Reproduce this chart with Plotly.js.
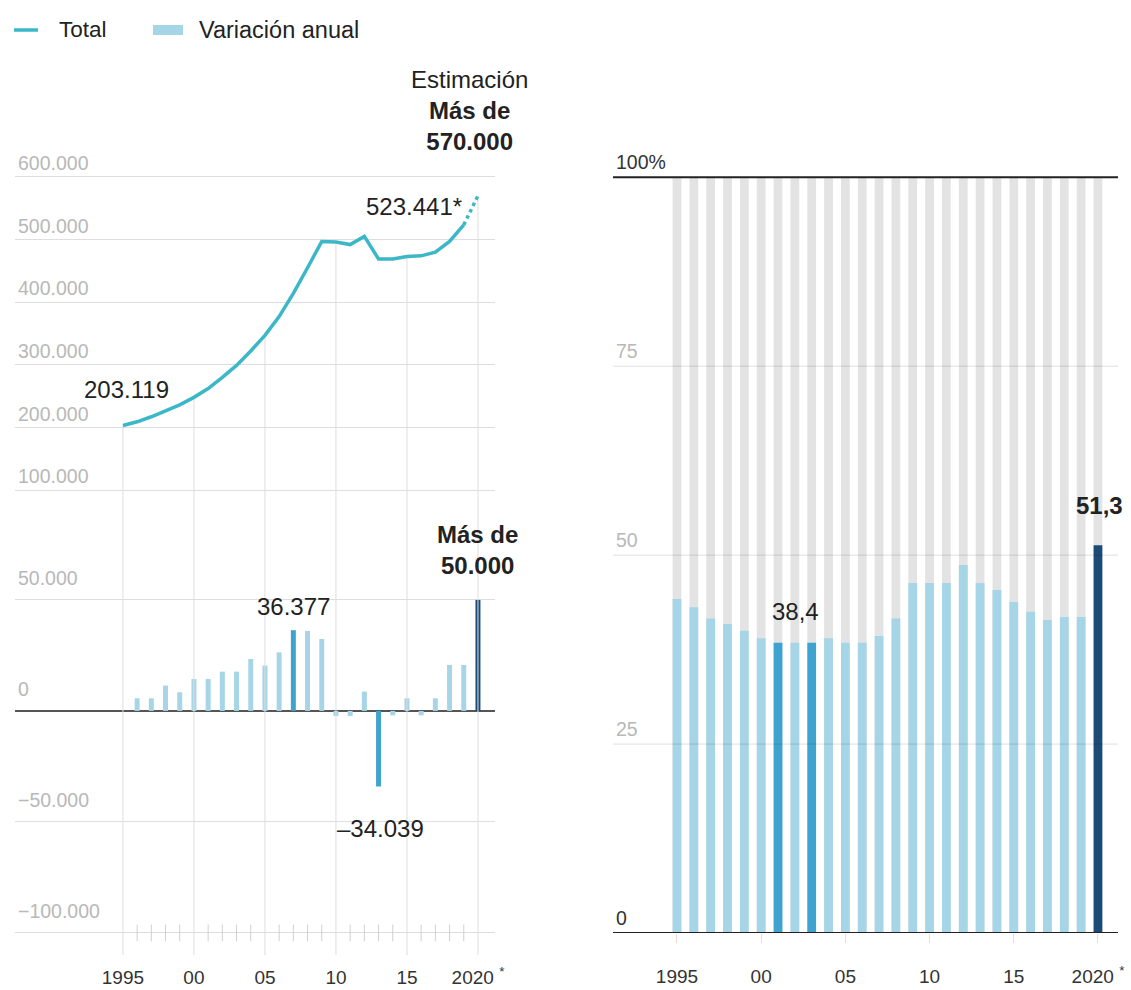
<!DOCTYPE html>
<html>
<head>
<meta charset="utf-8">
<script src="https://cdn.plot.ly/plotly-3.0.1.min.js"></script>
<style>
html,body{margin:0;padding:0;background:#fff;}
#chart{width:1131px;height:990px;}
</style>
</head>
<body>
<div id="chart"></div>
<script>
// ---------- DATA ----------
const years = [1995,1996,1997,1998,1999,2000,2001,2002,2003,2004,2005,2006,2007,2008,2009,2010,2011,2012,2013,2014,2015,2016,2017,2018,2019,2020];
// Total (1995-2019), 2020 = estimación
const totalYears = [1995,1996,1997,1998,1999,2000,2001,2002,2003,2004,2005,2006,2007,2008,2009,2010,2011,2012,2013,2014,2015,2016,2017,2018,2019];
const total = [203119,209000,217000,227000,236000,248000,262000,280000,299000,322000,347000,377000,414000,455000,497000,496000,492000,505000,469000,469000,473000,474000,480000,497000,523441];
const estimateYears = [2019,2020];
const estimate = [523441,570000];
// Variación anual
const changeYears = [1996,1997,1998,1999,2000,2001,2002,2003,2004,2005,2006,2007,2008,2009,2010,2011,2012,2013,2014,2015,2016,2017,2018,2019,2020];
const changes = [5700,5700,11400,8400,14400,14400,17700,17700,23400,20400,26400,36377,36000,32400,-2300,-2300,8700,-34039,-2000,5700,-2000,5700,20700,20700,50000];
// Porcentaje (%)
const shareYears = years;
const share = [44.2,43.1,41.6,40.9,40.0,39.0,38.4,38.4,38.4,39.0,38.4,38.4,39.3,41.6,46.3,46.3,46.3,48.7,46.3,45.4,43.8,42.5,41.4,41.8,41.8,51.3];
// Ticks / labels
const xTickVals = [1995,2000,2005,2010,2015,2020];
const xTickText = ['1995','00','05','10','15','2020 <sup>*</sup>'];
const leftTopTicks = [100000,200000,300000,400000,500000,600000];
const leftBottomTicks = [-100000,-50000,0,50000];
const rightTicks = [0,25,50,75,100];
const rightTickText = ['<span style="color:#333">0</span>','25','50','75','<span style="color:#333">100%</span>'];
const legendLabels = ['Total','Variación anual'];

// ---------- STYLE ----------
const FONT = 'Liberation Sans, Arial, sans-serif';
const LINE = '#3cb7c8';
const LIGHT = '#a5d5e7';
const MID = '#3ea3cf';
const DARK = '#1c4b77';
const GRID = '#dedede';
const TXT = '#222';

function fmt(n, dec){
  const neg = n < 0; n = Math.abs(n);
  let s = dec ? n.toFixed(dec).replace('.', ',') : String(Math.round(n)).replace(/\B(?=(\d{3})+(?!\d))/g, '.');
  return (neg ? '\u2013' : '') + s;
}

const leftBarColors = changeYears.map(y => y === 2020 ? DARK : (y === 2007 || y === 2013) ? MID : LIGHT);
const rightBarColors = shareYears.map(y => y === 2020 ? DARK : (y === 2001 || y === 2003) ? MID : LIGHT);

const yTopRange = [20200, 659000];
const y2Range = [-112200, 77000];

// vertical grid lines (top: from curve down; bottom: full)
const gridTopX = [], gridTopY = [], gridBotX = [], gridBotY = [];
xTickVals.forEach(y => {
  const v = y === 2020 ? estimate[1] : total[totalYears.indexOf(y)];
  gridTopX.push(y, y, null); gridTopY.push(v, yTopRange[0], null);
  gridBotX.push(y, y, null); gridBotY.push(y2Range[1], -110000, null);
});
const minorYears = years.filter(y => xTickVals.indexOf(y) < 0);

const traces = [
  {x: gridTopX, y: gridTopY, xaxis:'x', yaxis:'y', mode:'lines', line:{color:GRID, width:1}, showlegend:false, hoverinfo:'skip'},
  {x: gridBotX, y: gridBotY, xaxis:'x', yaxis:'y2', mode:'lines', line:{color:GRID, width:1}, showlegend:false, hoverinfo:'skip'},
  {x: minorYears, y: minorYears.map(() => leftBottomTicks[0]), xaxis:'x', yaxis:'y2', mode:'markers',
   marker:{symbol:'line-ns', size:12, line:{color:'#d0d0d0', width:1}}, showlegend:false, hoverinfo:'skip'},
  {x: totalYears, y: total, xaxis:'x', yaxis:'y', mode:'lines', name:legendLabels[0], line:{color:LINE, width:3.5}, showlegend:false},
  {x: estimateYears, y: estimate, xaxis:'x', yaxis:'y', mode:'lines', line:{color:LINE, width:3.5, dash:'dot'}, showlegend:false},
  {x: changeYears, y: changes, xaxis:'x', yaxis:'y2', type:'bar', name:legendLabels[1], width:0.35,
   marker:{color:leftBarColors, line:{width:0}}, showlegend:false},
  {x: shareYears, y: shareYears.map(() => 100), xaxis:'x3', yaxis:'y3', type:'bar', width:0.52,
   marker:{color:'#e3e3e3', line:{width:0}}, showlegend:false, hoverinfo:'skip'},
  {x: shareYears, y: share, xaxis:'x3', yaxis:'y3', type:'bar', width:0.52,
   marker:{color:rightBarColors, line:{width:0}}, showlegend:false}
];

const W = 1131, H = 990;
const px = v => v / W, py = v => 1 - v / H;

const tickFontY = {family:FONT, size:19.5, color:'#b8b8b8'};
const tickFontX = {family:FONT, size:19, color:'#333'};

const shapes = [
  // legend keys
  {type:'line', xref:'paper', yref:'paper', x0:px(14), x1:px(38), y0:py(30), y1:py(30), line:{color:LINE, width:3.5}},
  {type:'rect', xref:'paper', yref:'paper', x0:px(153), x1:px(183), y0:py(35), y1:py(25), fillcolor:LIGHT, line:{width:0}}
];
rightTicks.forEach(v => {
  const edge = (v === 0 || v === 100);
  shapes.push({type:'line', xref:'x3 domain', yref:'y3', x0:0, x1:1, y0:v, y1:v, layer:'above',
    line:{color: edge ? '#222' : 'rgba(0,0,0,0.13)', width: edge ? 2 : 1}});
});

const annFont = {family:FONT, size:24, color:TXT};
const annotations = [
  {xref:'paper', yref:'paper', x:px(57), y:py(30), xanchor:'left', yanchor:'middle', text:legendLabels[0], showarrow:false, font:{family:FONT, size:22.5, color:TXT}},
  {xref:'paper', yref:'paper', x:px(197), y:py(30), xanchor:'left', yanchor:'middle', text:legendLabels[1], showarrow:false, font:{family:FONT, size:23.5, color:TXT}},
  {xref:'x', yref:'y', x:totalYears[0], y:total[0], text:fmt(total[0]), showarrow:false, xshift:4, yshift:36, font:annFont},
  {xref:'x', yref:'y', x:totalYears[24], y:total[24], text:fmt(total[24]) + '*', showarrow:false, xanchor:'right', xshift:0, yshift:18, font:annFont},
  {xref:'x', yref:'y', x:estimateYears[1], y:estimate[1], text:'Estimación<br><b>Más de<br>' + fmt(estimate[1]) + '</b>', showarrow:false,
   xanchor:'center', yanchor:'bottom', xshift:-8, yshift:39, font:annFont},
  {xref:'x', yref:'y2', x:2007, y:changes[changeYears.indexOf(2007)], text:fmt(changes[changeYears.indexOf(2007)]), showarrow:false, yshift:24, font:annFont},
  {xref:'x', yref:'y2', x:2013, y:changes[changeYears.indexOf(2013)], text:fmt(changes[changeYears.indexOf(2013)]), showarrow:false, xshift:2, yshift:-42, font:annFont},
  {xref:'x', yref:'y2', x:2020, y:changes[changeYears.indexOf(2020)], text:'<b>Más de<br>' + fmt(changes[changeYears.indexOf(2020)]) + '</b>', showarrow:false,
   yanchor:'bottom', yshift:19, font:annFont},
  {xref:'x3', yref:'y3', x:2001, y:share[shareYears.indexOf(2001)], text:fmt(share[shareYears.indexOf(2001)], 1), showarrow:false, xshift:17, yshift:31, font:annFont},
  {xref:'x3', yref:'y3', x:2020, y:share[shareYears.indexOf(2020)], text:'<b>' + fmt(share[shareYears.indexOf(2020)], 1) + '</b>', showarrow:false, xshift:2, yshift:40, font:annFont}
];

const layout = {
  width: W, height: H,
  margin: {l:0, r:0, t:0, b:0},
  paper_bgcolor:'#fff', plot_bgcolor:'rgba(0,0,0,0)',
  separators: ',.',
  barmode: 'overlay',
  font: {family:FONT, color:'#333'},
  showlegend: false,
  xaxis: {domain:[px(15), px(495)], range:[1987.4, 2021.2], anchor:'y2', tickvals:xTickVals, ticktext:xTickText,
          showgrid:false, zeroline:false, showline:false, ticks:'', ticklabelstandoff:4, tickfont:tickFontX},
  yaxis: {domain:[py(540), py(140)], range:yTopRange, anchor:'x', tickvals:leftTopTicks, tickformat:',d',
          ticklabelposition:'inside top', ticklabelshift:0, showgrid:true, gridcolor:GRID, gridwidth:1, zeroline:false, showline:false, tickfont:tickFontY},
  yaxis2: {domain:[py(960), py(540)], range:y2Range, anchor:'x', tickvals:leftBottomTicks, tickformat:',d',
          ticklabelposition:'inside top', ticklabelshift:-8, showgrid:true, gridcolor:GRID, gridwidth:1, zeroline:true, zerolinecolor:'#555', zerolinewidth:2, showline:false, tickfont:tickFontY},
  xaxis3: {domain:[px(613), px(1118)], range:[1991.2, 2021.19], anchor:'y3', tickvals:xTickVals, ticktext:xTickText,
          showgrid:false, zeroline:false, showline:false, ticks:'outside', ticklen:9, tickcolor:'#eadcd4', ticklabelstandoff:17, tickfont:tickFontX},
  yaxis3: {domain:[py(933), py(147)], range:[0,104], anchor:'x3', tickvals:rightTicks, ticktext:rightTickText,
          ticklabelposition:'inside top', ticklabelshift:-1, showgrid:false, zeroline:false, showline:false, tickfont:tickFontY},
  shapes: shapes,
  annotations: annotations
};

Plotly.newPlot('chart', traces, layout, {displayModeBar:false, staticPlot:true});
</script>
</body>
</html>
